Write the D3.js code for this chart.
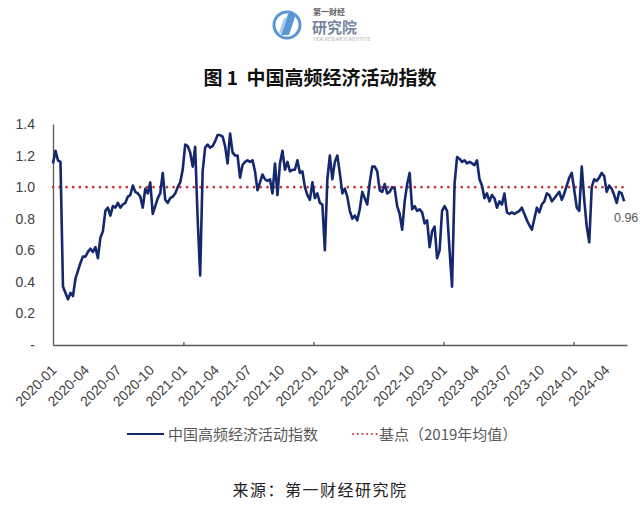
<!DOCTYPE html>
<html><head><meta charset="utf-8">
<script src="https://cdn.jsdelivr.net/npm/d3@7"></script>
<style>body{margin:0;background:#fff}svg{display:block}</style>
</head><body><svg id="c" width="640" height="507"></svg>
<script>
// ---------- data ----------
const startDate = "2020-01-01";   // first weekly observation
const values = [
1.15,1.23,1.17,1.16,0.37,0.33,0.29,0.33,0.31,0.42,
0.47,0.52,0.56,0.56,0.59,0.61,0.59,0.62,0.55,0.68,
0.72,0.85,0.87,0.82,0.88,0.87,0.90,0.87,0.89,0.90,
0.94,0.95,1.01,0.97,0.96,0.94,0.87,0.99,0.96,1.03,
0.83,0.88,0.93,0.96,1.09,0.92,0.90,0.93,0.94,0.96,
1.00,1.03,1.11,1.27,1.26,1.22,1.13,1.255,0.80,0.44,
1.10,1.25,1.27,1.25,1.26,1.29,1.33,1.33,1.32,1.26,
1.15,1.34,1.22,1.20,1.20,1.06,1.14,1.16,1.17,1.16,
1.17,1.10,0.98,1.03,1.08,1.05,1.04,1.05,0.96,1.15,
0.95,1.15,1.23,1.11,1.16,1.10,1.11,1.11,1.17,1.09,
1.10,1.00,0.95,0.92,1.03,0.93,0.96,0.90,0.89,0.60,
1.05,1.20,1.05,1.16,1.20,1.09,0.96,0.99,0.94,0.85,
0.80,0.82,0.79,0.86,0.97,0.93,0.89,1.03,1.13,1.13,
1.10,0.98,0.97,1.02,0.96,0.97,1.00,0.99,0.88,0.83,
0.73,0.91,1.02,1.09,0.86,0.88,0.85,0.86,0.84,0.77,
0.79,0.62,0.72,0.75,0.55,0.60,0.85,0.88,0.85,0.60,
0.37,1.02,1.19,1.18,1.16,1.17,1.15,1.16,1.15,1.14,
1.17,1.05,1.01,0.93,0.96,0.91,0.95,0.93,0.87,0.91,
0.89,0.96,0.84,0.83,0.84,0.83,0.84,0.85,0.87,0.83,
0.79,0.76,0.73,0.80,0.87,0.84,0.89,0.91,0.96,0.95,
0.91,0.93,0.95,0.97,0.92,0.96,1.01,1.06,1.09,0.98,
0.87,0.85,1.13,0.92,0.75,0.65,1.00,1.05,1.04,1.06,
1.09,1.07,0.97,1.01,0.99,0.95,0.90,0.97,0.96,0.91
];
const baselineValue = 1.0;
const yTickValues = [0, 0.2, 0.4, 0.6, 0.8, 1.0, 1.2, 1.4];
const yTickLabels = ["-", "0.2", "0.4", "0.6", "0.8", "1.0", "1.2", "1.4"];
const xTickLabels = ["2020-01","2020-04","2020-07","2020-10","2021-01","2021-04","2021-07","2021-10",
  "2022-01","2022-04","2022-07","2022-10","2023-01","2023-04","2023-07","2023-10","2024-01","2024-04"];
const yearTicks = ["2021-01","2022-01","2023-01","2024-01"];
const axisEnd = "2024-05-30";
const lastLabel = "0.96";
const titleText = "图 1  中国高频经济活动指数";
const seriesName = "中国高频经济活动指数";
const baseName = "基点（2019年均值）";
const sourceText = "来源：第一财经研究院";

// ---------- drawing ----------
const svg = d3.select("#c");
const parse = d3.timeParse("%Y-%m-%d");
const parseM = d3.timeParse("%Y-%m");
const t0 = parse(startDate);
const data = values.map((v, i) => ({date: d3.timeDay.offset(t0, i * 7), value: v}));

const x = d3.scaleTime().domain([t0, parse(axisEnd)]).range([53, 627]);
const y = d3.scaleLinear().domain([0, 1.4]).range([345, 124]);

const FONT = "'Liberation Sans', 'Noto Sans', sans-serif";
const CJK = "'Noto Sans CJK SC', sans-serif";

// logo
const logo = svg.append("g").attr("opacity", 0.85);
logo.append("circle").attr("cx", 287).attr("cy", 25).attr("r", 13)
  .attr("fill", "#fff").attr("stroke", "#3a86cf").attr("stroke-width", 3);
logo.append("path").attr("d", "M281,35 L288,14 L296,14 L289,35 Z").attr("fill", "#3a86cf");
logo.append("path").attr("d", "M279,33 L284,18 L287,18 L282,33 Z").attr("fill", "#9cc4ea");
logo.append("text").attr("x", 313).attr("y", 15).attr("font-family", CJK).attr("font-size", 8)
  .attr("font-weight", 700).attr("fill", "#444").text("第一财经");
logo.append("text").attr("x", 312).attr("y", 33).attr("font-family", CJK).attr("font-size", 15)
  .attr("font-weight", 700).attr("fill", "#5b6f8f").text("研究院");
logo.append("text").attr("x", 313).attr("y", 41).attr("font-family", CJK).attr("font-size", 4.5)
  .attr("fill", "#999").text("YICAI RESEARCH INSTITUTE");

// title
svg.append("text").attr("x", 320).attr("y", 85).attr("text-anchor", "middle")
  .attr("font-family", CJK).attr("font-size", 19).attr("font-weight", 700).attr("fill", "#111")
  .attr("xml:space", "preserve").style("white-space", "pre").text(titleText);

// y axis
const yAxis = svg.append("g").attr("transform", "translate(53,0)")
  .call(d3.axisLeft(y).tickValues(yTickValues).tickSize(0).tickSizeOuter(0).tickPadding(18)
    .tickFormat((d, i) => yTickLabels[i]));
yAxis.select(".domain").attr("stroke", "#595959").attr("stroke-width", 1.3);
yAxis.selectAll("text").attr("font-family", FONT).attr("font-size", 14).attr("fill", "#404040");

// x axis: line + yearly ticks
const xAxis = svg.append("g").attr("transform", "translate(0,345)")
  .call(d3.axisBottom(x).tickValues(yearTicks.map(parseM)).tickSizeInner(-3).tickSizeOuter(0).tickFormat(""));
xAxis.select(".domain").attr("stroke", "#595959").attr("stroke-width", 1.5);
xAxis.selectAll(".tick line").attr("stroke", "#595959").attr("stroke-width", 1.3);

// x labels (quarterly)
const xLab = svg.append("g").attr("transform", "translate(0,345)")
  .call(d3.axisBottom(x).tickValues(xTickLabels.map(parseM)).tickSize(0)
    .tickFormat((d, i) => xTickLabels[i]));
xLab.select(".domain").remove();
xLab.selectAll("text").attr("font-family", FONT).attr("font-size", 14).attr("fill", "#404040")
  .attr("text-anchor", "end").attr("dy", null).attr("y", 0)
  .attr("transform", "translate(4,26) rotate(-45)");

// baseline dotted
svg.append("line").attr("x1", x(t0)).attr("x2", 624).attr("y1", y(baselineValue)).attr("y2", y(baselineValue))
  .attr("stroke", "#c8383a").attr("stroke-width", 2.6).attr("stroke-linecap", "round")
  .attr("stroke-dasharray", "0.1 6.6");

// series line
const line = d3.line().x(d => x(d.date)).y(d => y(d.value));
svg.append("path").datum(data).attr("d", line).attr("fill", "none")
  .attr("stroke", "#14286e").attr("stroke-width", 2.6).attr("stroke-linejoin", "round");

// last value label
const last = data[data.length - 1];
svg.append("text").attr("x", x(last.date) + 2).attr("y", 222).attr("text-anchor", "middle")
  .attr("font-family", FONT).attr("font-size", 12.5).attr("fill", "#595959").text(lastLabel);

// legend
const lg = svg.append("g");
lg.append("line").attr("x1", 127).attr("x2", 164).attr("y1", 434).attr("y2", 434)
  .attr("stroke", "#14286e").attr("stroke-width", 2.2);
lg.append("text").attr("x", 168).attr("y", 439.5).attr("font-family", CJK).attr("font-size", 15)
  .attr("fill", "#595959").text(seriesName);
lg.append("line").attr("x1", 353).attr("x2", 377).attr("y1", 434).attr("y2", 434)
  .attr("stroke", "#c8383a").attr("stroke-width", 2).attr("stroke-linecap", "round")
  .attr("stroke-dasharray", "0.1 4.6");
lg.append("text").attr("x", 379).attr("y", 439.5).attr("font-family", CJK).attr("font-size", 15)
  .attr("fill", "#595959").text(baseName);

// source
svg.append("text").attr("x", 320).attr("y", 496).attr("text-anchor", "middle")
  .attr("font-family", CJK).attr("font-size", 16).attr("fill", "#222")
  .attr("letter-spacing", 1.5).text(sourceText);
</script>
</body></html>
